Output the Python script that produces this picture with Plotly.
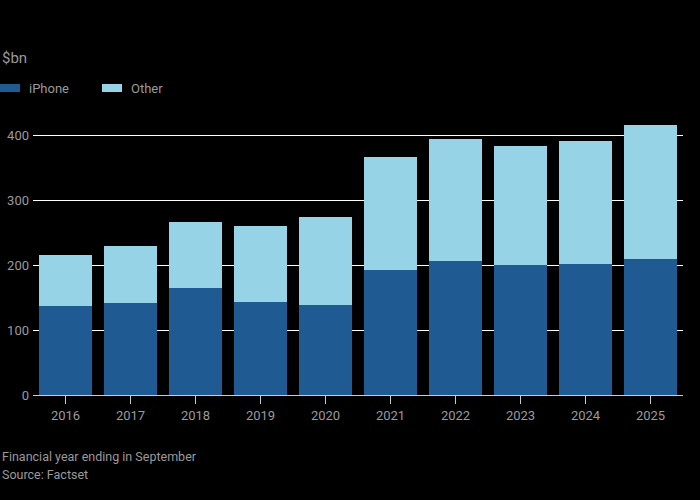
import plotly.graph_objects as go

years = ["2016", "2017", "2018", "2019", "2020", "2021", "2022", "2023", "2024", "2025"]
iphone = [136.7, 141.3, 164.9, 142.4, 137.8, 192.0, 205.5, 200.6, 201.2, 209.6]
other = [78.9, 87.9, 100.7, 117.8, 136.7, 173.8, 188.8, 182.7, 189.8, 206.4]

DARK = "#1f5a93"
LIGHT = "#97d3e7"
TXT = "#9a9a9a"
FONT = "Roboto, sans-serif"

fig = go.Figure()
fig.add_bar(x=years, y=iphone, name="iPhone", marker=dict(color=DARK, line=dict(width=0)))
fig.add_bar(x=years, y=other, name="Other", marker=dict(color=LIGHT, line=dict(width=0)))

fig.update_layout(
    barmode="stack",
    bargap=0.19,
    width=700, height=500,
    margin=dict(l=33, r=17, t=109, b=105),
    paper_bgcolor="black", plot_bgcolor="black",
    showlegend=False,
    font=dict(family=FONT, color=TXT, size=13),
    xaxis=dict(
        ticks="outside", ticklen=8, tickcolor="#cccccc", tickwidth=1,
        showline=True, linecolor="#cccccc", linewidth=1,
        tickfont=dict(size=13, color=TXT), automargin=False,
    ),
    yaxis=dict(
        range=[0, 440], tickvals=[0, 100, 200, 300, 400],
        showgrid=True, gridcolor="#ffffff", gridwidth=1,
        ticks="", ticklabelstandoff=3,
        zeroline=False, tickfont=dict(size=13, color=TXT),
        layer="below traces", automargin=False,
    ),
)

# Title and legend
fig.add_annotation(xref="paper", yref="paper", x=-33/650, y=1 + (109-58)/286, text="$bn",
                   showarrow=False, xanchor="left", yanchor="middle",
                   font=dict(size=15, color=TXT, family=FONT))
leg_y = 1 + (109-88)/286
fig.add_shape(type="rect", xref="paper", yref="paper", x0=-33/650, x1=-13/650,
              y0=leg_y - 4/286, y1=leg_y + 4/286, fillcolor=DARK, line=dict(width=0))
fig.add_annotation(xref="paper", yref="paper", x=-6/650, y=leg_y, text="iPhone",
                   showarrow=False, xanchor="left", yanchor="middle",
                   font=dict(size=13, color=TXT, family=FONT))
fig.add_shape(type="rect", xref="paper", yref="paper", x0=69/650, x1=89/650,
              y0=leg_y - 4/286, y1=leg_y + 4/286, fillcolor=LIGHT, line=dict(width=0))
fig.add_annotation(xref="paper", yref="paper", x=96/650, y=leg_y, text="Other",
                   showarrow=False, xanchor="left", yanchor="middle",
                   font=dict(size=13, color=TXT, family=FONT))

# Footer
fig.add_annotation(xref="paper", yref="paper", x=-33/650, y=-(456-395)/286,
                   text="Financial year ending in September", showarrow=False,
                   xanchor="left", yanchor="middle", font=dict(size=12.5, color=TXT, family=FONT))
fig.add_annotation(xref="paper", yref="paper", x=-33/650, y=-(474-395)/286,
                   text="Source: Factset", showarrow=False,
                   xanchor="left", yanchor="middle", font=dict(size=12.5, color=TXT, family=FONT))

fig.write_html("out.html", config={"displayModeBar": False},
               post_script="document.body.style.margin='0';document.body.style.padding='0';document.body.style.background='black';")
